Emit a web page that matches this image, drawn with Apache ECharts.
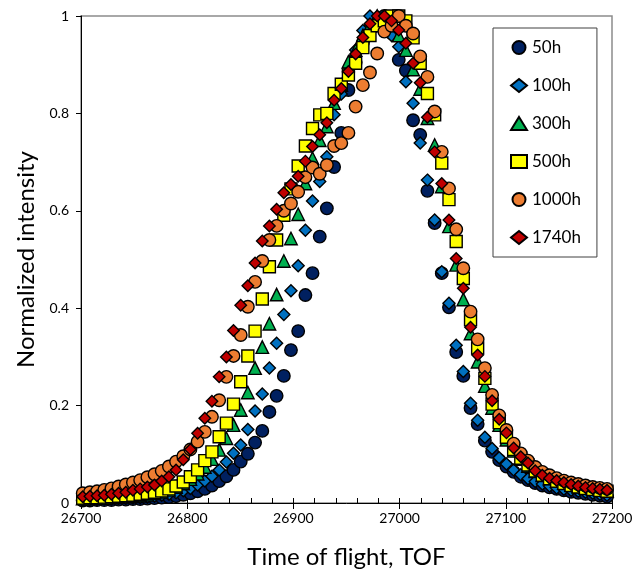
<!DOCTYPE html>
<html><head><meta charset="utf-8">
<script src="https://cdn.jsdelivr.net/npm/echarts@6/dist/echarts.min.js"></script>
<style>html,body{margin:0;padding:0;background:#fff}#c{width:638px;height:578px}</style>
</head><body><div id="c"></div>
<script>
const tof = [26701.6,26708.4,26715.1,26721.9,26728.7,26735.4,26742.2,26748.9,26755.7,26762.5,
26769.2,26776.0,26782.8,26789.5,26796.3,26803.0,26809.8,26816.6,26823.3,26830.1,
26836.9,26843.6,26850.4,26857.1,26863.9,26870.7,26877.4,26884.2,26891.0,26897.7,
26904.5,26911.3,26918.0,26924.8,26931.5,26938.3,26945.1,26951.8,26958.6,26965.4,
26972.1,26978.9,26985.6,26992.4,26999.2,27005.9,27012.7,27019.4,27026.2,27033.0,
27039.7,27046.5,27053.3,27060.0,27066.8,27073.5,27080.3,27087.1,27093.8,27100.6,
27107.4,27114.1,27120.9,27127.7,27134.4,27141.2,27147.9,27154.7,27161.5,27168.2,
27175.0,27181.8,27188.5,27195.3];

const h50 = [0.005,0.005,0.006,0.006,0.006,0.007,0.007,0.008,0.008,0.009,
0.010,0.011,0.012,0.014,0.017,0.020,0.024,0.029,0.036,0.045,
0.055,0.068,0.085,0.101,0.124,0.148,0.187,0.220,0.261,0.314,
0.353,0.427,0.472,0.547,0.605,0.690,0.760,0.848,0.905,0.945,
0.975,0.990,1.000,0.965,0.910,0.888,0.786,0.756,0.641,0.575,
0.472,0.402,0.310,0.261,0.195,0.162,0.128,0.105,0.088,0.075,
0.064,0.054,0.047,0.041,0.036,0.032,0.029,0.026,0.023,0.021,
0.019,0.017,0.015,0.013];

const h100 = [0.006,0.007,0.007,0.008,0.008,0.009,0.009,0.010,0.011,0.012,
0.014,0.016,0.018,0.021,0.025,0.030,0.037,0.045,0.055,0.068,
0.084,0.102,0.119,0.151,0.189,0.224,0.277,0.328,0.387,0.436,
0.487,0.560,0.620,0.660,0.711,0.797,0.840,0.885,0.930,0.970,
1.000,0.990,0.980,0.960,0.937,0.865,0.821,0.739,0.663,0.581,
0.475,0.410,0.324,0.270,0.205,0.170,0.135,0.112,0.093,0.080,
0.068,0.058,0.050,0.044,0.039,0.035,0.031,0.028,0.026,0.024,
0.022,0.020,0.018,0.016];

const h300 = [0.009,0.009,0.010,0.010,0.011,0.012,0.013,0.014,0.015,0.017,
0.020,0.023,0.027,0.033,0.040,0.049,0.060,0.074,0.090,0.109,
0.133,0.160,0.191,0.227,0.277,0.320,0.368,0.428,0.497,0.543,
0.593,0.656,0.708,0.745,0.773,0.821,0.858,0.906,0.930,0.960,
0.980,1.000,0.995,0.985,0.960,0.930,0.890,0.850,0.790,0.735,
0.650,0.568,0.489,0.418,0.348,0.290,0.240,0.195,0.160,0.130,
0.107,0.090,0.076,0.065,0.057,0.050,0.045,0.041,0.037,0.034,
0.031,0.029,0.027,0.025];

const h500 = [0.010,0.011,0.011,0.012,0.013,0.014,0.015,0.016,0.018,0.020,
0.022,0.025,0.029,0.035,0.043,0.054,0.068,0.087,0.105,0.136,
0.164,0.203,0.249,0.302,0.353,0.419,0.485,0.540,0.591,0.645,
0.692,0.733,0.769,0.797,0.800,0.841,0.860,0.879,0.903,0.935,
0.960,0.980,0.990,1.000,1.000,0.990,0.955,0.903,0.841,0.797,
0.698,0.623,0.537,0.461,0.376,0.318,0.256,0.203,0.165,0.135,
0.110,0.092,0.078,0.066,0.057,0.050,0.045,0.040,0.036,0.033,
0.030,0.028,0.026,0.024];

const h1000 = [0.020,0.022,0.024,0.027,0.030,0.034,0.038,0.042,0.047,0.053,
0.059,0.066,0.075,0.085,0.096,0.110,0.126,0.146,0.177,0.211,
0.259,0.302,0.345,0.403,0.454,0.497,0.540,0.569,0.600,0.615,
0.639,0.669,0.689,0.676,0.694,0.733,0.739,0.760,0.814,0.858,
0.884,0.923,0.968,0.980,1.000,0.980,0.964,0.917,0.875,0.804,
0.721,0.646,0.562,0.482,0.393,0.336,0.277,0.222,0.180,0.150,
0.122,0.102,0.087,0.074,0.064,0.057,0.051,0.046,0.042,0.039,
0.036,0.033,0.031,0.029];

const h1740 = [0.013,0.014,0.015,0.016,0.018,0.020,0.022,0.026,0.029,0.033,
0.037,0.045,0.054,0.068,0.089,0.110,0.143,0.174,0.209,0.259,
0.300,0.354,0.406,0.446,0.493,0.538,0.569,0.603,0.637,0.654,
0.671,0.702,0.732,0.756,0.781,0.827,0.851,0.886,0.922,0.956,
0.984,1.000,1.000,0.990,0.971,0.944,0.903,0.863,0.792,0.721,
0.656,0.581,0.502,0.441,0.361,0.304,0.260,0.210,0.172,0.144,
0.113,0.095,0.082,0.066,0.057,0.051,0.046,0.042,0.038,0.035,
0.032,0.030,0.028,0.026];

const seriesNames = ['50h','100h','300h','500h','1000h','1740h'];
const seriesValues = [h50, h100, h300, h500, h1000, h1740];
const seriesColors = ['#002060','#0070C0','#00B050','#FFFF00','#ED7D31','#C00000'];
const seriesSymbols = ['circle','diamond','triangle','rect','circle','diamond'];
const seriesSizes = [12.5, 12, 12.5, 12, 12.5, 11.5];

const FONT = 'Lato';
const chart = echarts.init(document.getElementById('c'), null, {renderer:'canvas'});

const series = seriesNames.map((name, k) => ({
  name: name,
  type: 'scatter',
  xAxisIndex: 0,
  symbol: seriesSymbols[k],
  symbolSize: seriesSizes[k],
  itemStyle: {color: seriesColors[k], borderColor: '#000', borderWidth: 1.4, opacity: 1},
  emphasis: {disabled: true},
  clip: false,
  data: tof.map((t, i) => [t, seriesValues[k][i]])
}));

chart.setOption({
  animation: false,
  backgroundColor: '#fff',
  grid: {left: 81, right: 26, top: 16, bottom: 75, show: true, borderColor: '#8c8c8c', borderWidth: 1.5},
  legend: {
    orient: 'vertical', left: 493, top: 28,
    data: seriesNames,
    itemWidth: 16, itemHeight: 13, itemGap: 21,
    padding: [11, 16, 11, 17],
    borderColor: '#404040', borderWidth: 1, backgroundColor: '#fff',
    textStyle: {fontFamily: FONT, fontSize: 17, color: '#000'}
  },
  xAxis: [{
    type: 'value', min: 26700, max: 27200, interval: 100,
    name: 'Time of flight, TOF', nameLocation: 'middle', nameGap: 42,
    nameTextStyle: {fontFamily: FONT, fontSize: 24, color: '#000'},
    axisLine: {show: true, onZero: false, lineStyle: {color: '#000', width: 1}},
    axisTick: {show: true, inside: false, length: 6, lineStyle: {color: '#000'}},
    minorTick: {show: false},
    axisLabel: {fontFamily: FONT, fontSize: 14, color: '#000', margin: 8, formatter: v => String(v)},
    splitLine: {show: false}
  }, {
    type: 'value', min: 26700, max: 27200, interval: 100, position: 'bottom',
    axisLine: {show: false, onZero: false},
    axisTick: {show: true, inside: true, length: 5, lineStyle: {color: '#000'}},
    minorTick: {show: true, splitNumber: 5, length: 5, lineStyle: {color: '#000'}},
    axisLabel: {show: false},
    splitLine: {show: false}
  }],
  yAxis: {
    type: 'value', min: 0, max: 1, interval: 0.2,
    name: 'Normalized intensity', nameLocation: 'middle', nameGap: 43,
    nameTextStyle: {fontFamily: FONT, fontSize: 24, color: '#000'},
    axisLine: {show: true, lineStyle: {color: '#000', width: 1}},
    axisTick: {show: true, length: 5, lineStyle: {color: '#000'}},
    axisLabel: {fontFamily: FONT, fontSize: 14, color: '#000', margin: 12},
    splitLine: {show: false}
  },
  series: series
});
</script>
</body></html>
